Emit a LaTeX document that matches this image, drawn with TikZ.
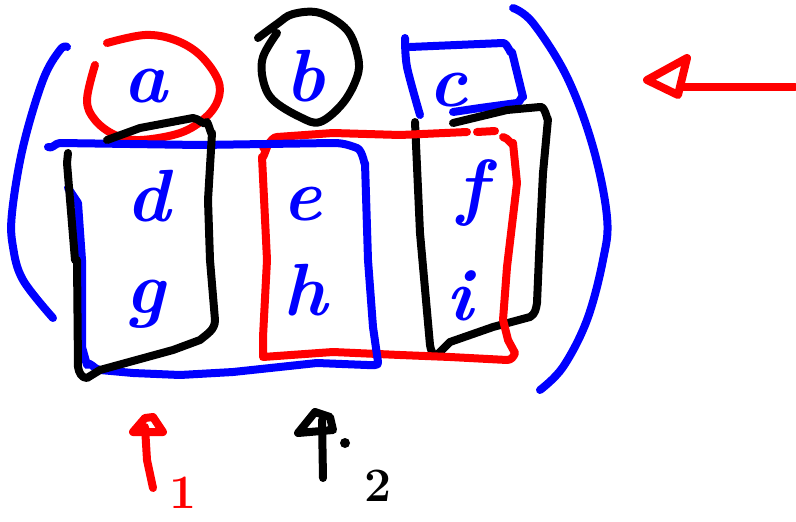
\documentclass[tikz,border=0pt]{standalone}
\usepackage{fontspec}
\begin{document}
\begin{tikzpicture}[x=1pt,y=-1pt,
  pen/.style={line width=8pt,line cap=round,line join=round},
  bpen/.style={pen,draw={rgb,255:red,0;green,0;blue,255}},
  rpen/.style={pen,draw=red},
  kpen/.style={pen,draw=black},
  entry/.style={text={rgb,255:red,0;green,0;blue,255},font=\fontsize{74}{74}\selectfont\bfseries\itshape,inner sep=0pt},
  lbl/.style={font=\fontsize{48}{48}\selectfont\bfseries,inner sep=0pt}]
\useasboundingbox (0,0) rectangle (796,522);
% matrix entries
\node[entry] (a) at (145,86) {a};
\node[entry] (b) at (305,76) {b};
\node[entry] (c) at (448,90) {c};
\node[entry] (d) at (148,196) {d};
\node[entry] (e) at (302,204) {e};
\node[entry] (f) at (472,193) {f};
\node[entry] (g) at (145,304) {g};
\node[entry] (h) at (305,290) {h};
\node[entry] (i) at (460,296) {i};
% parentheses
\draw[bpen] plot[smooth,tension=0.6] coordinates {(67,47) (60,50) (43,80) (23,147) (12,213) (13,247) (23,280) (53,318)};
\draw[bpen] plot[smooth,tension=0.6] coordinates {(513,8) (533,23) (567,77) (593,147) (607,217) (603,260) (587,320) (563,367) (540,390)};
% red circle around a
\draw[rpen] plot[smooth,tension=0.6] coordinates {(95,65) (87,100) (95,120) (115,135) (140,140) (180,133) (205,118) (218,100) (218,80) (200,55) (175,40) (145,35) (107,43)};
% black circle around b
\draw[kpen] plot[smooth,tension=0.6] coordinates {(258,38) (277,24) (293,14) (320,13) (347,30) (358,57) (357,77) (343,103) (320,122) (300,117) (273,100) (263,80) (263,57) (277,33)};
% blue box around c
\draw[bpen] plot[smooth,tension=0.5] coordinates {(405,38) (407,67) (420,115)};
\draw[bpen] (410,47) -- (503,43) to[out=0,in=-100] (512,52) -- (523,97) to[out=100,in=10] (517,103) -- (480,108) -- (453,112);
% black box column 3
\draw[kpen] (453,123) -- (507,110) -- (540,107) to[out=20,in=-90] (548,119) -- (543,173) -- (540,233) -- (537,303) to[out=-100,in=30] (530,317) -- (493,327) -- (450,342) -- (437,355) to[out=-150,in=-80] (430,345) -- (420,233) -- (415,122);
% red box columns 2-3
\draw[rpen] (263,147) to[out=-70,in=180] (277,137) -- (333,133) -- (400,135) -- (467,132);
\draw[rpen] (477,132) -- (495,131);
\draw[rpen] (503,137) to[out=0,in=-90] (513,143) -- (517,183) -- (507,267) -- (503,320) -- (508,340) -- (515,353) to[out=-110,in=0] (507,360) -- (450,357) -- (400,355) -- (333,352) -- (263,357) -- (263,337) -- (267,260) -- (262,157) to[out=-90,in=-110] (267,147);
% blue box columns 1-2
\draw[bpen] (48,147) to[out=-30,in=180] (60,143) -- (200,145) -- (333,143) to[out=0,in=160] (357,148) to[out=-20,in=-90] (365,163) -- (368,260) -- (373,327) -- (378,362) to[out=-70,in=0] (367,365) -- (317,363) -- (233,372) -- (180,375) -- (133,373) -- (100,370) to[out=180,in=60] (87,365) -- (82,347) -- (82,260) -- (78,203) -- (68,188);
% black box column 1
\draw[kpen] (107,140) -- (140,128) -- (193,118) to[out=0,in=-120] (207,122) to[out=-60,in=-90] (212,133) -- (208,200) -- (210,260) -- (215,320) to[out=-90,in=40] (200,340) -- (173,350) -- (100,370) -- (87,378) to[out=180,in=-80] (78,367) -- (77,260) -- (75,260) -- (67,163) -- (68,153);
% right arrow
\coordinate (rs) at (795,87);
\coordinate (rt) at (680,87);
\draw[rpen] (rs) -- (rt);
\draw[rpen] (687,58) -- (647,80) -- (678,95) -- cycle;
% bottom arrows and labels
\coordinate (u1s) at (153,488);
\coordinate (u1t) at (145,427);
\draw[rpen] (u1s) -- (147,460) -- (u1t);
\draw[rpen] (133,432) -- (145,418) -- (153,417) -- (163,432) -- cycle;
\node[lbl,text=red] (one) at (183,493) {1};
\coordinate (u2s) at (323,478);
\coordinate (u2t) at (322,420);
\draw[kpen] (u2s) -- (u2t);
\draw[kpen] (298,433) -- (315,412) -- (330,417) -- (333,430) -- cycle;
\fill (345,443) circle (5);
\node[lbl] (two) at (378,486) {2};
\end{tikzpicture}
\end{document}
